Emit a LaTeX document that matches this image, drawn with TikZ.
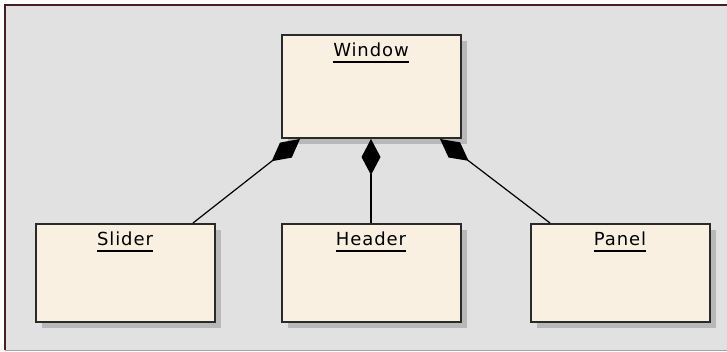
\documentclass[tikz,border=0pt]{standalone}
\usepackage{fontspec}
\setmainfont{DejaVu Sans}
\usetikzlibrary{positioning,shadows,arrows.meta}

\definecolor{canvasgray}{HTML}{E1E1E1}
\definecolor{framebrown}{HTML}{4B1E1E}
\definecolor{boxfill}{HTML}{FAF0E2}
\definecolor{boxline}{HTML}{2A2A2A}

% underlined class name
\newcommand\ulname[1]{\setbox0\hbox{#1}\rlap{\vrule height -4pt depth 5.8pt width \wd0}\box0}

\tikzset{
    classbox/.style={draw=boxline, line width=2pt, fill=boxfill,
        minimum width=179pt, minimum height=98pt, inner sep=0pt,
        drop shadow={shadow xshift=6pt, shadow yshift=-6pt, fill=black!28, opacity=1}},
    classname/.style={anchor=base, inner sep=0pt,
        font=\fontsize{18}{20}\selectfont\addfontfeature{LetterSpace=5}},
    comp/.style={{Diamond[length=36pt,width=19pt]}-, line width=1.2pt, draw=black}
}

\begin{document}
\begin{tikzpicture}[x=1pt,y=-1pt]
    \useasboundingbox (0,0) rectangle (727,352);
    \fill[white] (0,0) rectangle (727,352);
    \fill[canvasgray] (5,5) rectangle (727,350);
    \draw[black!35, line width=1pt] (5,350) -- (727,350);
    \draw[framebrown, line width=2pt] (5,350) -- (5,5) -- (727,5);

    % classes
    \node[classbox, minimum height=103pt] (window) at (371,86.5) {};
    \node[classbox, below=84pt of window] (header) {};
    \node[classbox, left=65pt of header] (slider) {};
    \node[classbox, right=68pt of header] (panel) {};

    \node[classname] (windowname) at ([yshift=-23pt]window.north) {\ulname{Window}};
    \node[classname] (slidername) at ([yshift=-23pt]slider.north) {\ulname{Slider}};
    \node[classname] (headername) at ([yshift=-23pt]header.north) {\ulname{Header}};
    \node[classname] (panelname) at ([yshift=-23pt]panel.north) {\ulname{Panel}};

    % compositions
    \draw[comp] ([xshift=-71pt]window.south) -- ([xshift=68pt]slider.north);
    \draw[comp] (window.south) -- (header.north);
    \draw[comp] ([xshift=69pt]window.south) -- ([xshift=-70pt]panel.north);
\end{tikzpicture}
\end{document}
